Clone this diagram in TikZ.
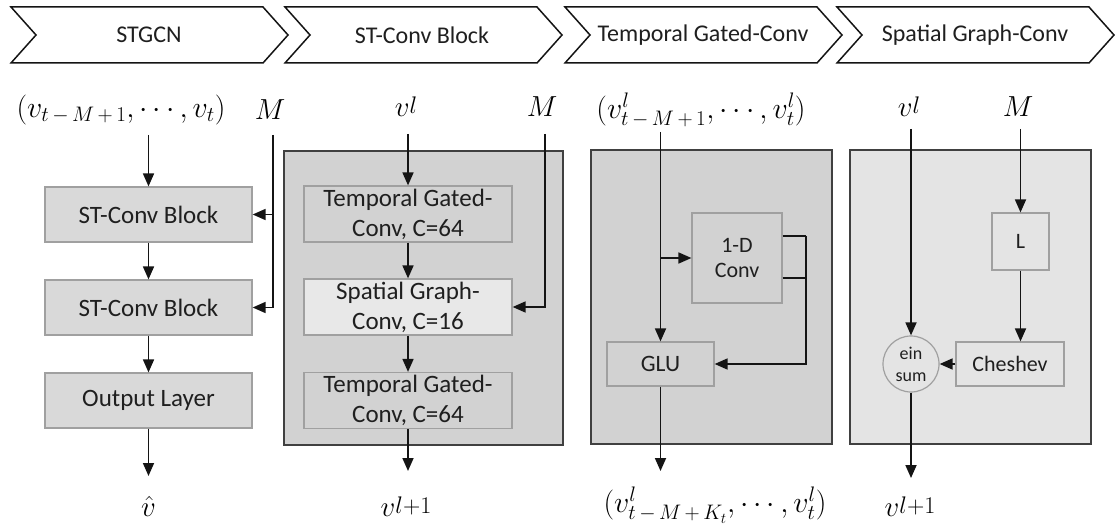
\RequirePackage{fix-cm}
\documentclass[tikz,border=0pt]{standalone}
\usepackage{fontspec}
\setmainfont{Carlito}
\usetikzlibrary{arrows.meta}

\definecolor{ink}{HTML}{1F1F1F}
\definecolor{wire}{HTML}{141414}
\definecolor{edge}{HTML}{A0A0A0}
\definecolor{frame}{HTML}{404040}
\definecolor{boxA}{HTML}{D9D9D9}
\definecolor{panelD}{HTML}{D2D2D2}
\definecolor{panelL}{HTML}{E4E4E4}
\definecolor{boxL}{HTML}{E8E8E8}

% spaced binary operators inside subscripts
\newcommand{\subm}{\mskip3mu{-}\mskip3mu}
\newcommand{\subp}{\mskip3mu{+}\mskip3mu}
% variable with a slightly raised, large index
\newcommand{\vidx}[1]{$v$\raisebox{3pt}{\fontsize{24}{26}\selectfont$#1$}}

\tikzset{
  chev/.style={draw=wire, line width=1.5pt, line join=miter},
  chevlbl/.style={font=\fontsize{24}{26}\selectfont, text=ink, inner sep=0pt},
  mathlbl/.style={font=\fontsize{29}{32}\selectfont, text=black, inner sep=0pt},
  tuplbl/.style={font=\fontsize{30}{33}\selectfont, text=black, inner sep=0pt},
  ln/.style={draw=wire, line width=1.7pt},
  arr/.style={draw=wire, line width=1.7pt, -{Triangle[length=13pt,width=11pt]}},
  panel/.style={draw=frame, line width=1.6pt, inner sep=0pt},
  blk/.style={draw=edge, line width=1.2pt, fill=boxA, inner sep=0pt, align=center,
    text=ink, font=\fontsize{25}{30}\selectfont},
  sblk/.style={draw=edge, line width=1.2pt, inner sep=0pt, align=center, text=ink},
}

\begin{document}
\begin{tikzpicture}[x=1pt, y=-1pt]
\useasboundingbox (0,0) rectangle (1115,526);

% ---------- header chevrons ----------
\foreach \L in {11,285,565,837}{
  \draw[chev] (\L,7) -- ++(252,0) -- ++(25,28) -- ++(-25,28) -- ++(-252,0) -- ++(25,-28) -- cycle;
}
\node[chevlbl] (h1) at (149,35) {STGCN};
\node[chevlbl] (h2) at (422,35) {ST-Conv Block};
\node[chevlbl] (h3) at (703,35) {Temporal Gated-Conv};
\node[chevlbl] (h4) at (975,35) {Spatial Graph-Conv};

% ---------- STGCN ----------
\node[tuplbl] (c1in) at (121,110) {$(v_{t\subm M\subp 1},\cdots,v_t)$};
\node[mathlbl] (c1M) at (270,110) {$M$};
\node[blk, minimum width=207pt, minimum height=55pt] (c1b1) at (148.5,214.5) {ST-Conv Block};
\node[blk, minimum width=207pt, minimum height=55pt] (c1b2) at (148.5,307.5) {ST-Conv Block};
\node[blk, minimum width=207pt, minimum height=55pt] (c1b3) at (148.5,400.5) {Output Layer};
\node[mathlbl] (c1hat) at (148.5,506) {$\hat{v}$};
\coordinate (c1s) at (148.5,135);
\coordinate (c1e) at (148.5,476);
\coordinate (c1m) at (273,135);
\draw[arr] (c1s) -- (c1b1.north);
\draw[arr] (c1b1.south) -- (c1b2.north);
\draw[arr] (c1b2.south) -- (c1b3.north);
\draw[arr] (c1b3.south) -- (c1e);
\draw[arr] (c1m) |- (c1b2.east);
\draw[arr] (c1m |- c1b1.east) -- (c1b1.east);

% ---------- ST-Conv Block ----------
\node[panel, fill=panelD, minimum width=279pt, minimum height=294pt] (c2bg) at (423.5,298) {};
\node[mathlbl] (c2v) at (406,107) {\vidx{l}};
\node[mathlbl] (c2M) at (542,107) {$M$};
\node[blk, minimum width=208pt, minimum height=56pt, fill=panelD] (c2t1) at (408,214)
  {Temporal Gated-\\Conv, C=64};
\node[blk, minimum width=208pt, minimum height=56pt, fill=boxL] (c2s) at (408,307)
  {Spatial Graph-\\Conv, C=16};
\node[blk, minimum width=208pt, minimum height=56pt, fill=panelD] (c2t2) at (408,400.5)
  {Temporal Gated-\\Conv, C=64};
\node[mathlbl] (c2out) at (406,507) {\vidx{l{+}1}};
\coordinate (c2st) at (408,134);
\coordinate (c2e) at (408,471);
\coordinate (c2m) at (545,134);
\draw[arr] (c2st) -- (c2t1.north);
\draw[arr] (c2t1.south) -- (c2s.north);
\draw[arr] (c2s.south) -- (c2t2.north);
\draw[arr] (c2t2.south) -- (c2e);
\draw[arr] (c2m) |- (c2s.east);

% ---------- Temporal Gated-Conv ----------
\node[panel, fill=panelD, minimum width=241pt, minimum height=294pt] (c3bg) at (711.5,297) {};
\node[tuplbl] (c3in) at (701,110) {$(v^{l}_{t\subm M\subp 1},\cdots,v^{l}_t)$};
\node[sblk, fill=panelD, minimum width=90pt, minimum height=90pt,
      font=\fontsize{22}{25}\selectfont] (c3conv) at (737,258) {1-D\\Conv};
\node[sblk, fill=panelD, minimum width=107pt, minimum height=44pt,
      font=\fontsize{23.5}{26}\selectfont] (c3glu) at (660.5,364) {GLU};
\node[tuplbl] (c3out) at (715,505) {$(v^{l}_{t\subm M\subp K_t},\cdots,v^{l}_t)$};
\coordinate (c3st) at (660.5,132);
\coordinate (c3e) at (660.5,471);
\coordinate (c3r) at (806,236);
\draw[arr] (c3st) -- (c3glu.north);
\draw[arr] (c3conv.west -| c3st) -- (c3conv.west);
\draw[ln] (c3conv.east |- c3r) -- (c3r);
\draw[ln] (c3conv.east |- 0,278) -- (c3r |- 0,278);
\draw[arr] (c3r) |- (c3glu.east);
\draw[arr] (c3glu.south) -- (c3e);

% ---------- Spatial Graph-Conv ----------
\node[panel, fill=panelL, minimum width=241pt, minimum height=294pt] (c4bg) at (970.5,297) {};
\node[mathlbl] (c4v) at (909,107) {\vidx{l}};
\node[mathlbl] (c4M) at (1018,107) {$M$};
\node[sblk, circle, fill=panelL, minimum size=56pt,
      font=\fontsize{18}{22}\selectfont] (c4sum) at (911,364) {ein\\sum};
\node[sblk, fill=panelL, minimum width=57pt, minimum height=57pt,
      font=\fontsize{22}{25}\selectfont] (c4L) at (1020.5,241.5) {L};
\node[sblk, fill=panelL, minimum width=108pt, minimum height=44pt,
      font=\fontsize{22}{25}\selectfont] (c4ch) at (1010,364) {Cheshev};
\node[mathlbl] (c4out) at (910,507) {\vidx{l{+}1}};
\coordinate (c4vs) at (911,129);
\coordinate (c4ms) at (1020.5,129);
\coordinate (c4e) at (911,478);
\draw[arr] (c4vs) -- (c4sum.north);
\draw[arr] (c4ms) -- (c4L.north);
\draw[arr] (c4L.south) -- (c4L.south |- c4ch.north);
\draw[arr] (c4ch.west) -- (c4sum.east);
\draw[arr] (c4sum.south) -- (c4e);
\end{tikzpicture}
\end{document}
